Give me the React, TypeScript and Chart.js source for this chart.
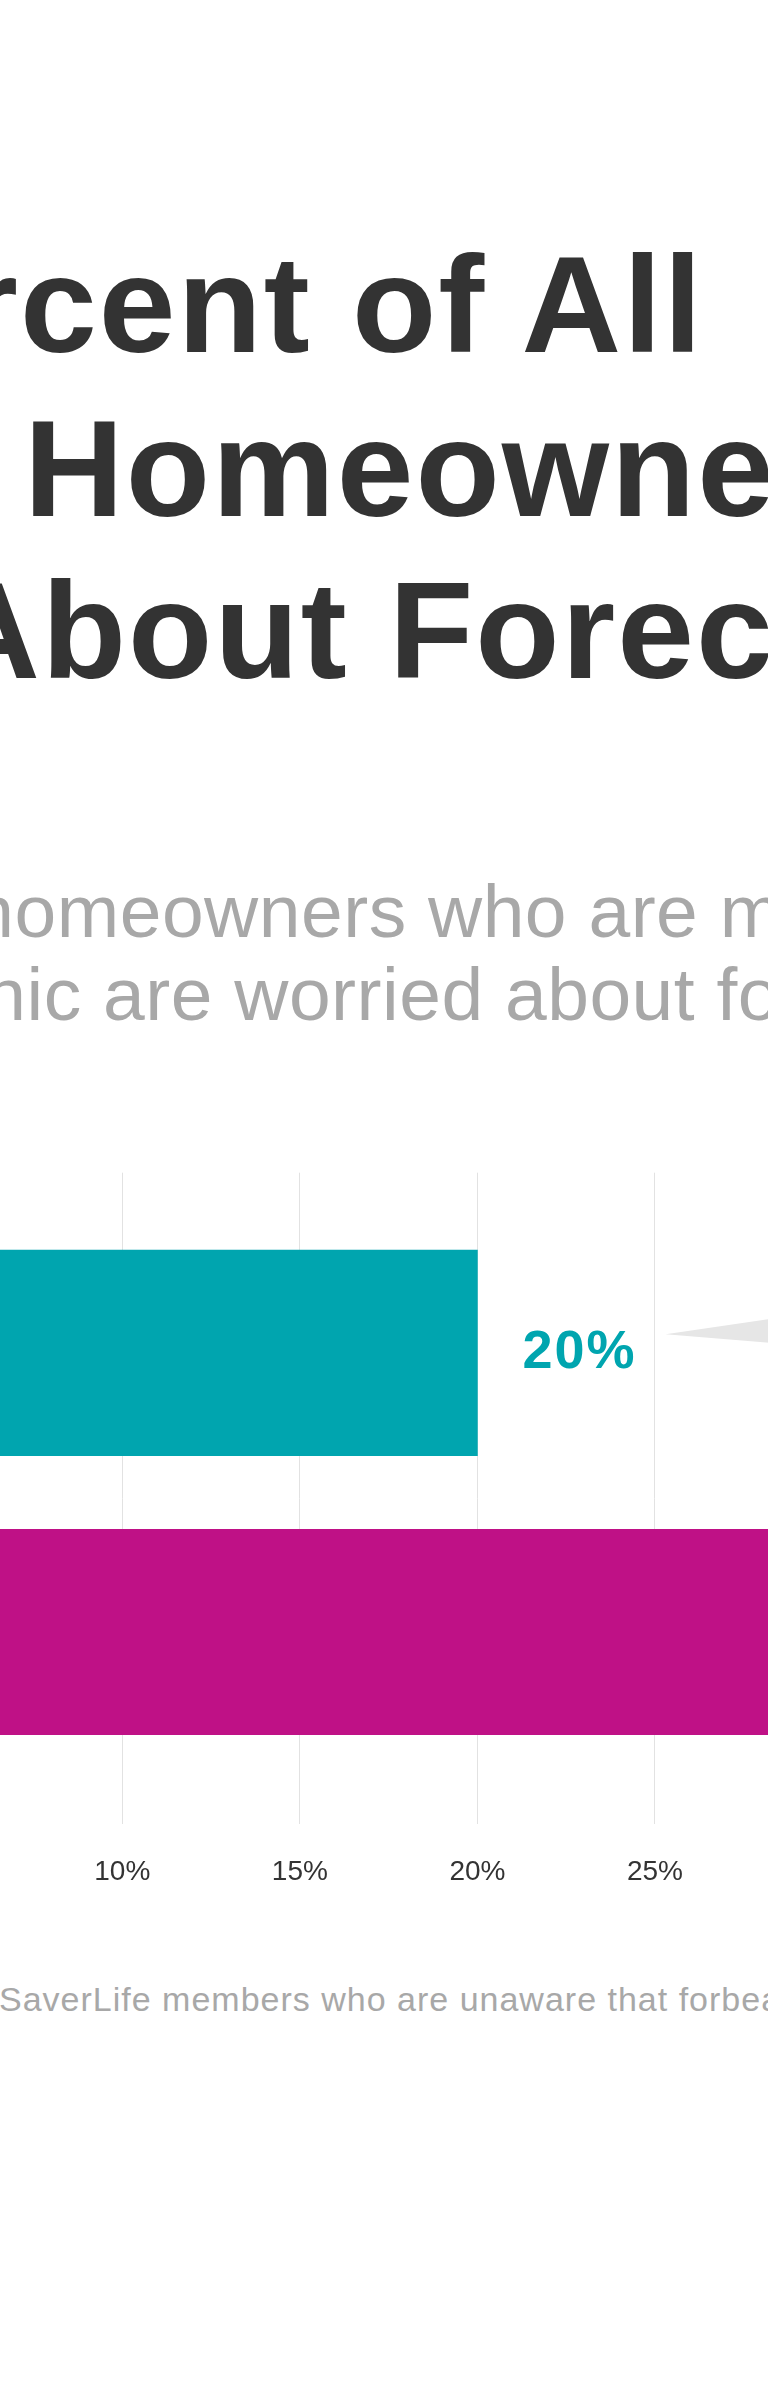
import React, { useEffect, useRef } from 'react';
import { Chart, registerables } from 'chart.js';

Chart.register(...registerables);

// ---- data ----
const categories = ['All homeowners', 'Hispanic homeowners'];
const categoryIndex = [0, 1];
const values = [20, 33];
const valueLabels = ['20%', '33%'];
const barColors = ['#00A5AF', '#BF1186'];
const tickValues = [0, 5, 10, 15, 20, 25, 30, 35, 40];
const tickLabels = ['0%', '5%', '10%', '15%', '20%', '25%', '30%', '35%', '40%'];

const titlePrefixes = ['Percent\u00a0', 'Hispanic\u00a0', 'Worried About\u00a0'];
const titleAnchors = ['of All', 'Homeowners', 'Foreclosure'];
const subtitlePrefixes = ['More than a third of homeowners\u00a0', 'Hispanic\u00a0'];
const subtitleAnchors = ['who are members and', 'are worried about foreclosure.'];
const footnote = 'SaverLife members who are unaware that forbearance is an option';

const calloutTipValue = 25.3;

const FONT = '"Liberation Sans", Arial, Helvetica, sans-serif';

const overlayPlugin = {
  id: 'overlayLabels',
  afterDatasetsDraw(chart: any) {
    const ctx = chart.ctx;
    const meta = chart.getDatasetMeta(0);
    const xs = chart.scales.x;
    ctx.save();
    // callout pointer wedge
    const tipX = xs.getPixelForValue(calloutTipValue);
    const tipY = meta.data[0].y - 18.5;
    const len = 500;
    ctx.fillStyle = '#e6e6e6';
    ctx.beginPath();
    ctx.moveTo(tipX, tipY);
    ctx.lineTo(tipX + len, tipY - 0.1466 * len);
    ctx.lineTo(tipX + len, tipY + 0.082 * len);
    ctx.closePath();
    ctx.fill();
    // value labels
    meta.data.forEach((bar: any, i: number) => {
      ctx.font = `bold 54px ${FONT}`;
      ctx.fillStyle = barColors[i];
      ctx.textAlign = 'left';
      ctx.textBaseline = 'alphabetic';
      (ctx as any).letterSpacing = '2px';
      ctx.fillText(valueLabels[i], bar.x + 45, bar.y + 15);
    });
    ctx.restore();
  },
};

function BarChart() {
  const ref = useRef<HTMLCanvasElement | null>(null);
  useEffect(() => {
    if (!ref.current) return;
    const chart = new Chart(ref.current, {
      type: 'bar',
      data: {
        labels: categories,
        datasets: [
          {
            data: categoryIndex.map((y, i) => ({ x: values[i], y })),
            backgroundColor: barColors,
            borderWidth: 0,
            barThickness: 205.5,
          } as any,
        ],
      },
      options: {
        indexAxis: 'y',
        animation: false,
        responsive: false,
        devicePixelRatio: 1,
        layout: { padding: { left: 67.2, right: 112.4, top: 72.7, bottom: 10.1 } },
        plugins: { legend: { display: false }, tooltip: { enabled: false }, title: { display: false } },
        scales: {
          y: {
            type: 'linear',
            display: false,
            reverse: true,
            offset: false,
            min: -0.6454,
            max: 1.6888,
          },
          x: {
            type: 'linear',
            min: tickValues[0],
            max: tickValues[tickValues.length - 1],
            afterBuildTicks: (scale: any) => {
              scale.ticks = tickValues.map((v) => ({ value: v }));
            },
            grid: { color: '#e2e2e2', lineWidth: 1, drawTicks: false },
            border: { display: false },
            ticks: {
              padding: 31,
              color: '#333333',
              font: { family: FONT, size: 28 },
              callback: (v: any) => tickLabels[tickValues.indexOf(Number(v))] ?? '',
            },
          },
        },
      } as any,
      plugins: [overlayPlugin],
    });
    return () => chart.destroy();
  }, []);
  return (
    <canvas
      ref={ref}
      width={1600}
      height={830}
      style={{ position: 'absolute', left: -300, top: 1100, width: 1600, height: 830 }}
    />
  );
}

function AnchoredLine(props: {
  prefix: string;
  anchor: string;
  left: number;
  top: number;
  size: number;
  weight: number;
  color: string;
  spacing?: number;
}) {
  const { prefix, anchor, left, top, size, weight, color, spacing = 0 } = props;
  return (
    <div
      style={{
        position: 'absolute',
        left,
        top,
        fontFamily: FONT,
        fontSize: size,
        fontWeight: weight,
        lineHeight: 1,
        color,
        whiteSpace: 'nowrap',
        letterSpacing: spacing,
      }}
    >
      <span style={{ position: 'absolute', right: '100%', top: 0 }}>{prefix}</span>
      {anchor}
    </div>
  );
}

export default function App() {
  const titleLefts = [352, 24, 389];
  const titleTops = [234.9, 398.7, 561.2];
  const subLefts = [428, 103];
  const subTops = [873.5, 956.5];
  return (
    <div
      style={{
        position: 'absolute',
        left: 0,
        top: 0,
        width: 768,
        height: 2401,
        overflow: 'hidden',
        background: '#ffffff',
      }}
    >
      {titleAnchors.map((a, i) => (
        <AnchoredLine
          key={'t' + i}
          prefix={titlePrefixes[i]}
          anchor={a}
          left={titleLefts[i]}
          top={titleTops[i]}
          size={138}
          weight={700}
          color="#333333"
          spacing={2}
        />
      ))}
      {subtitleAnchors.map((a, i) => (
        <AnchoredLine
          key={'s' + i}
          prefix={subtitlePrefixes[i]}
          anchor={a}
          left={subLefts[i]}
          top={subTops[i]}
          size={75}
          weight={400}
          color="#a8a8a8"
          spacing={0.5}
        />
      ))}
      <div
        style={{
          position: 'absolute',
          left: -1,
          top: 1981.9,
          fontFamily: FONT,
          fontSize: 34,
          lineHeight: 1,
          color: '#a8a8a8',
          whiteSpace: 'nowrap',
          letterSpacing: 1,
        }}
      >
        {footnote}
      </div>
      <BarChart />
    </div>
  );
}
